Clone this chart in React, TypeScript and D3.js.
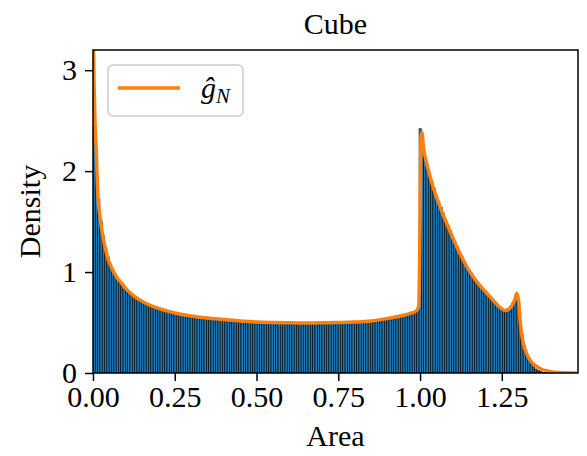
import { useRef, useEffect } from 'react'
import * as d3 from 'd3'

// histogram densities, 200 equal bins over [0, sqrt(2)]
const histDensity: number[] = [
  2.45, 2.05, 1.72, 1.5, 1.36, 1.24, 1.15, 1.08, 1.02, 0.97, 0.93, 0.89, 0.86, 0.83, 0.81, 0.79, 0.775,
  0.76, 0.745, 0.73, 0.715, 0.70, 0.69, 0.68, 0.67, 0.66, 0.65, 0.645, 0.64, 0.63, 0.625, 0.62, 0.61, 0.605, 0.60, 0.595,
  0.59, 0.585, 0.58, 0.578, 0.575, 0.57, 0.568, 0.565, 0.56, 0.558, 0.555, 0.552, 0.55, 0.548,
  0.545, 0.543, 0.54, 0.538, 0.536, 0.534, 0.532, 0.53, 0.528, 0.526, 0.524, 0.522, 0.52, 0.518, 0.517, 0.515, 0.514, 0.513, 0.512, 0.51,
  0.508, 0.507, 0.506, 0.505, 0.504, 0.503, 0.502, 0.501, 0.5, 0.499, 0.499, 0.498, 0.498, 0.497, 0.497, 0.497, 0.496, 0.496, 0.496, 0.496,
  0.496, 0.496, 0.496, 0.497, 0.497, 0.497, 0.497, 0.498, 0.498, 0.498, 0.499, 0.499, 0.5, 0.5, 0.5, 0.501, 0.501, 0.502, 0.502, 0.503,
  0.504, 0.504, 0.505, 0.506, 0.507, 0.508, 0.509, 0.51, 0.512, 0.513, 0.515, 0.517, 0.519, 0.522, 0.525, 0.528, 0.532, 0.536, 0.54, 0.545,
  0.55, 0.555, 0.56, 0.566, 0.572, 0.578, 0.585, 0.593, 0.602, 0.615, 0.64,
  2.42, 2.25, 2.15, 2.06, 1.98, 1.9, 1.83, 1.76, 1.7, 1.64, 1.58, 1.52, 1.46, 1.41, 1.35, 1.3, 1.25, 1.2, 1.16, 1.11,
  1.07, 1.03, 0.99, 0.95, 0.92, 0.89, 0.86, 0.83, 0.81, 0.78, 0.76, 0.73, 0.71, 0.68, 0.66, 0.64, 0.62, 0.62, 0.64, 0.66,
  0.69, 0.73, 0.77, 0.6, 0.38, 0.27, 0.19, 0.13, 0.09, 0.06, 0.04, 0.025, 0.015, 0.008, 0.004, 0.002, 0.001, 0, 0,
]
const histMin = 0
const histMax = 1.4142

// kernel density estimate g_N
const kdeArea: number[] = [
  0, 0.003, 0.006, 0.01, 0.015, 0.02, 0.025, 0.03, 0.036, 0.045, 0.056, 0.07, 0.087, 0.105, 0.127, 0.15, 0.175, 0.2,
  0.25, 0.3, 0.35, 0.4, 0.45, 0.5, 0.55, 0.6, 0.65, 0.7, 0.75, 0.8, 0.85, 0.9, 0.94, 0.97, 0.99, 0.996,
  1.0, 1.003, 1.006, 1.01, 1.02, 1.033, 1.046, 1.064, 1.082, 1.1, 1.122, 1.14, 1.163, 1.19, 1.214, 1.235, 1.25, 1.26,
  1.27, 1.28, 1.29, 1.296, 1.302, 1.306, 1.31, 1.316, 1.325, 1.336, 1.35, 1.367, 1.39, 1.41, 1.44, 1.48,
]
const kdeDensity: number[] = [
  3.6, 2.9, 2.5, 2.2, 1.75, 1.58, 1.46, 1.36, 1.26, 1.14, 1.05, 0.96, 0.89, 0.82, 0.76, 0.71, 0.67, 0.64,
  0.595, 0.565, 0.545, 0.53, 0.515, 0.505, 0.5, 0.497, 0.496, 0.497, 0.5, 0.505, 0.515, 0.54, 0.565, 0.59, 0.62, 0.66,
  1.5, 2.35, 2.38, 2.25, 2.08, 1.92, 1.78, 1.62, 1.48, 1.34, 1.185, 1.07, 0.95, 0.84, 0.755, 0.68, 0.635, 0.62,
  0.63, 0.66, 0.73, 0.79, 0.7, 0.52, 0.4, 0.29, 0.2, 0.13, 0.08, 0.045, 0.02, 0.008, 0.002, 0,
]

const xTicks: number[] = [0, 0.25, 0.5, 0.75, 1.0, 1.25]
const yTicks: number[] = [0, 1, 2, 3]

export default function App() {
  const svgRef = useRef(null)

  const width: number = 587
  const height: number = 456
  const margin = { left: 93, right: 9, top: 50, bottom: 83 }
  const font = "'Liberation Serif', 'Times New Roman', serif"
  const fontSize = 30

  useEffect(() => {
    const svg = d3.select(svgRef.current)
    svg.selectAll('*').remove()

    const x = d3.scaleLinear().domain([0, 1.483]).range([margin.left, width - margin.right])
    const y = d3.scaleLinear().domain([0, 3.2]).range([height - margin.bottom, margin.top])

    svg.append('defs').append('clipPath').attr('id', 'plotclip')
      .append('rect')
      .attr('x', margin.left).attr('y', margin.top)
      .attr('width', width - margin.left - margin.right)
      .attr('height', height - margin.top - margin.bottom)

    const plot = svg.append('g').attr('clip-path', 'url(#plotclip)')

    // histogram bars
    const binW = (histMax - histMin) / histDensity.length
    plot.append('g').selectAll('rect')
      .data(histDensity)
      .enter()
      .append('rect')
      .attr('x', (d, i) => x(histMin + i * binW))
      .attr('y', d => y(d))
      .attr('width', x(binW) - x(0))
      .attr('height', d => y(0) - y(d))
      .attr('fill', '#1f77b4')
      .attr('stroke', '#000')
      .attr('stroke-width', 0.6)

    // density line
    const line = d3.line<number>()
      .x((d, i) => x(kdeArea[i]))
      .y(d => y(d))
      .curve(d3.curveMonotoneX)
    plot.append('path')
      .attr('d', line(kdeDensity))
      .attr('fill', 'none')
      .attr('stroke', '#ff7f0e')
      .attr('stroke-width', 3.5)
      .attr('stroke-linejoin', 'round')

    // frame
    svg.append('rect')
      .attr('x', margin.left).attr('y', margin.top)
      .attr('width', width - margin.left - margin.right)
      .attr('height', height - margin.top - margin.bottom)
      .attr('fill', 'none')
      .attr('stroke', '#000')
      .attr('stroke-width', 1.5)

    // x axis
    const xAxis = svg.append('g')
      .attr('transform', `translate(0,${height - margin.bottom})`)
      .call(d3.axisBottom(x).tickValues(xTicks).tickFormat(d3.format('.2f')).tickSize(8).tickPadding(5))
    xAxis.select('.domain').remove()
    xAxis.selectAll('line').attr('stroke-width', 1.5)
    xAxis.selectAll('text').attr('font-family', font).attr('font-size', fontSize).attr('fill', '#000')

    // y axis
    const yAxis = svg.append('g')
      .attr('transform', `translate(${margin.left},0)`)
      .call(d3.axisLeft(y).tickValues(yTicks).tickFormat(d3.format('d')).tickSize(8).tickPadding(8))
    yAxis.select('.domain').remove()
    yAxis.selectAll('line').attr('stroke-width', 1.5)
    yAxis.selectAll('text').attr('font-family', font).attr('font-size', fontSize).attr('fill', '#000')
      .attr('dy', '0.3em')

    // labels
    svg.append('text')
      .attr('x', (margin.left + width - margin.right) / 2).attr('y', 446)
      .attr('text-anchor', 'middle')
      .attr('font-family', font).attr('font-size', fontSize)
      .text('Area')
    svg.append('text')
      .attr('transform', `translate(40,${(margin.top + height - margin.bottom) / 2}) rotate(-90)`)
      .attr('text-anchor', 'middle')
      .attr('font-family', font).attr('font-size', fontSize)
      .text('Density')
    svg.append('text')
      .attr('x', (margin.left + width - margin.right) / 2).attr('y', 34)
      .attr('text-anchor', 'middle')
      .attr('font-family', font).attr('font-size', fontSize)
      .text('Cube')

    // legend
    const legend = svg.append('g')
    legend.append('rect')
      .attr('x', 108).attr('y', 65).attr('width', 135).attr('height', 51)
      .attr('rx', 5)
      .attr('fill', 'white').attr('fill-opacity', 0.8)
      .attr('stroke', '#ccc').attr('stroke-width', 1.5)
    legend.append('line')
      .attr('x1', 118).attr('x2', 180).attr('y1', 88).attr('y2', 88)
      .attr('stroke', '#ff7f0e').attr('stroke-width', 3.5)
    const lt = legend.append('text')
      .attr('x', 201).attr('y', 98)
      .attr('font-family', font).attr('font-size', fontSize).attr('font-style', 'italic')
    lt.append('tspan').text('ĝ')
    lt.append('tspan').attr('font-size', 21).attr('dy', 5).text('N')
  }, [])

  return (
    <svg ref={svgRef} width={width} height={height}
      style={{ position: 'absolute', left: 0, top: 0, background: 'white' }} />
  )
}
